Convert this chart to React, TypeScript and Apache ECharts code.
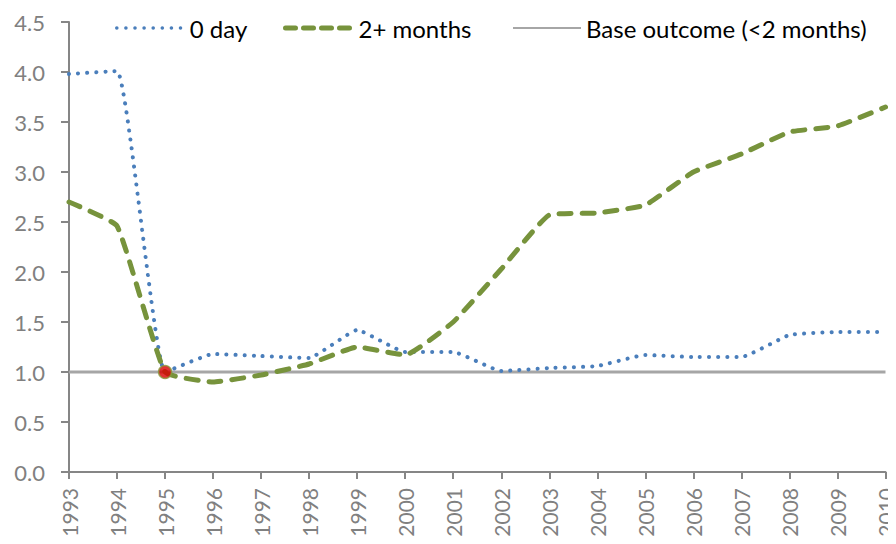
import React, { useEffect, useRef } from "react";
import * as echarts from "echarts";

const years = ["1993","1994","1995","1996","1997","1998","1999","2000","2001","2002","2003","2004","2005","2006","2007","2008","2009","2010"];
const zeroDay = [3.98, 4.01, 1.0, 1.18, 1.16, 1.14, 1.42, 1.2, 1.2, 1.01, 1.04, 1.06, 1.17, 1.15, 1.15, 1.37, 1.4, 1.4];
const twoMonths = [2.7, 2.46, 1.0, 0.9, 0.97, 1.08, 1.25, 1.17, 1.5, 2.03, 2.57, 2.59, 2.67, 3.0, 3.18, 3.4, 3.46, 3.65];
const baseOutcome = [1, 1, 1, 1, 1, 1, 1, 1, 1, 1, 1, 1, 1, 1, 1, 1, 1, 1];
const originPoint = [["1995", 1.0]];
const yTicks = { min: 0, max: 4.5, interval: 0.5 };

const FONT = "Lato, 'Open Sans', sans-serif";

export default function App() {
  const ref = useRef<HTMLDivElement>(null);
  useEffect(() => {
    const chart = echarts.init(ref.current!, null, { renderer: "svg" });
    const legendCommon = {
      top: 11,
      itemWidth: 68,
      itemHeight: 14,
      itemGap: 6,
      itemStyle: { opacity: 0 },
      textStyle: { fontFamily: FONT, fontSize: 24, color: "#000" },
      selectedMode: false,
    };
    chart.setOption({
      animation: false,
      backgroundColor: "#fff",
      grid: { left: 69, right: 10, top: 22, bottom: 72, containLabel: false },
      legend: [
        { ...legendCommon, left: 110, data: ["0 day"], lineStyle: { width: 3.5, type: [0.1, 9], cap: "round" } },
        { ...legendCommon, left: 278, data: ["2+ months"], lineStyle: { width: 5, type: [10, 8], cap: "round" } },
        { ...legendCommon, left: 507, data: ["Base outcome (<2 months)"] },
      ],
      xAxis: {
        type: "category",
        data: years,
        boundaryGap: false,
        axisLine: { lineStyle: { color: "#868686", width: 2 } },
        axisTick: { show: true, length: 7, alignWithLabel: true, lineStyle: { color: "#868686", width: 2 } },
        axisLabel: { rotate: 90, margin: 16, color: "#808080", fontFamily: FONT, fontSize: 21, interval: 0 },
        splitLine: { show: false },
      },
      yAxis: {
        type: "value",
        min: yTicks.min,
        max: yTicks.max,
        interval: yTicks.interval,
        axisLine: { show: true, lineStyle: { color: "#868686", width: 2 } },
        axisTick: { show: true, length: 8, lineStyle: { color: "#868686", width: 2 } },
        axisLabel: { margin: 24, color: "#808080", fontFamily: FONT, fontSize: 22, formatter: (v: number) => v.toFixed(1) },
        splitLine: { show: false },
      },
      series: [
        {
          name: "Base outcome (<2 months)",
          type: "line",
          data: baseOutcome,
          symbol: "none",
          color: "#A6A6A6",
          lineStyle: { color: "#A6A6A6", width: 3 },
          z: 1,
        },
        {
          name: "0 day",
          type: "line",
          data: zeroDay,
          symbol: "none",
          smooth: 0.12,
          color: "#4A7EBB",
          lineStyle: { color: "#4A7EBB", width: 4, type: [0.1, 9], cap: "round" },
          z: 2,
        },
        {
          name: "2+ months",
          type: "line",
          data: twoMonths,
          symbol: "none",
          smooth: 0.12,
          color: "#77933C",
          lineStyle: { color: "#77933C", width: 5, type: [12, 11], cap: "round" },
          z: 3,
        },
        {
          name: "origin",
          type: "scatter",
          data: originPoint,
          symbol: "circle",
          symbolSize: 13,
          itemStyle: { color: "#D80000", borderColor: "#8A9A3C", borderWidth: 1.5 },
          z: 4,
        },
      ],
    });
    return () => chart.dispose();
  }, []);
  return <div ref={ref} style={{ width: 896, height: 544, margin: -8 }} />;
}
